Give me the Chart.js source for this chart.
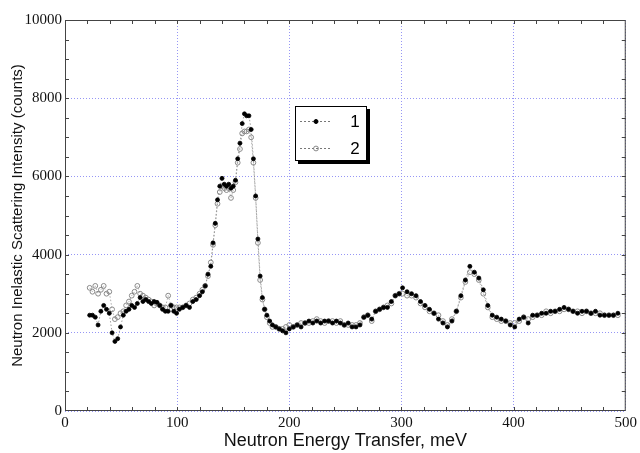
<!DOCTYPE html>
<html>
<head>
<meta charset="utf-8">
<script src="https://cdn.jsdelivr.net/npm/chart.js@4.4.1/dist/chart.umd.min.js"></script>
<style>
html, body { margin: 0; padding: 0; background: #fff; }
</style>
</head>
<body>
<canvas id="chart" width="640" height="453"></canvas>
<script>
// energy transfer (meV) of each channel
const energy = [
    22, 24.5, 27, 29.5, 32, 34.5, 37, 39.5, 42, 44.5, 47, 49.5, 52, 54.5, 57, 59.5,
    62, 64.5, 67, 69.5, 72, 74.5, 77, 79.5, 82, 84.5, 87, 89.5, 92, 94.5, 97, 99.5,
    102, 105, 108, 111, 114, 117, 120, 122.5, 125, 127.5, 130, 132, 134, 136, 138, 140,
    142, 144, 146, 148, 150, 152, 154, 156, 158, 160, 162, 164, 166, 168, 170, 172,
    174, 176, 178, 180, 182.5, 185, 188, 191, 194, 197,
    200, 203.5, 207, 210.5, 214, 217.5, 221, 224.5, 228, 231.5, 235, 238.5, 242, 245.5,
    249, 252.5, 256, 259.5, 263, 266.5, 270, 273.5, 277, 280.5, 284, 287.5, 291, 294.5, 298,
    301, 305, 309, 313, 317, 321, 325, 329, 333, 337, 341, 345, 349, 353, 357, 361,
    365, 369, 373, 377, 381, 385, 389, 393, 397, 401, 405, 409, 413, 417, 421, 425,
    429, 433, 437, 441, 445, 449, 453, 457, 461, 465, 469, 473, 477, 481, 485, 489, 493
];

// sample 1 (filled circles)
const sample1 = [
    2450, 2450, 2400, 2200, 2550, 2700, 2600, 2500, 2000, 1780, 1850, 2150, 2450, 2550, 2600, 2700,
    2650, 2750, 2900, 2800, 2850, 2800, 2750, 2800, 2780, 2700, 2600, 2550, 2550, 2700, 2550, 2500,
    2600, 2650, 2700, 2650, 2800, 2850, 2950, 3050, 3200, 3500, 3700, 4300, 4800, 5400, 5750, 5950,
    5800, 5750, 5800, 5700, 5750, 5900, 6450, 6850, 7350, 7600, 7550, 7550, 7200, 6450, 5500, 4400,
    3450, 2900, 2600, 2450, 2300, 2200, 2150, 2100, 2050, 2000,
    2100, 2150, 2200, 2150, 2250, 2300, 2250, 2300, 2250, 2300, 2300, 2250, 2300, 2250,
    2200, 2250, 2150, 2150, 2200, 2400, 2450, 2350, 2550, 2600, 2650, 2650, 2800, 2950, 3000,
    3150, 3050, 3000, 2950, 2800, 2700, 2600, 2500, 2350, 2250, 2150, 2300, 2550, 2950, 3350, 3700,
    3550, 3400, 3100, 2700, 2450, 2400, 2350, 2300, 2200, 2150, 2350, 2400, 2250, 2450, 2450, 2500,
    2500, 2550, 2550, 2600, 2650, 2600, 2550, 2500, 2550, 2550, 2500, 2550, 2450, 2450, 2450, 2450, 2500
];

// sample 2 (open circles)
const sample2 = [
    3150, 3050, 3200, 3000, 3100, 3200, 3000, 3050, 2600, 2350, 2400, 2500, 2550, 2700, 2800, 2950,
    3050, 3200, 3000, 2950, 2900, 2850, 2800, 2700, 2750, 2700, 2650, 2650, 2950, 2700, 2650, 2650,
    2650, 2650, 2700, 2750, 2850, 2900, 3000, 3100, 3200, 3450, 3800, 4250, 4750, 5300, 5600, 5750,
    5700, 5650, 5700, 5450, 5650, 5850, 6350, 6700, 7100, 7150, 7150, 7200, 7000, 6350, 5450, 4300,
    3350, 2850, 2600, 2400, 2250, 2150, 2150, 2100, 2100, 2150,
    2200, 2150, 2200, 2250, 2250, 2250, 2300, 2350, 2300, 2250, 2300, 2300, 2250, 2300,
    2200, 2200, 2200, 2200, 2250, 2400, 2450, 2300, 2550, 2600, 2650, 2700, 2750, 2950, 3000,
    3000, 2950, 2950, 2900, 2750, 2650, 2550, 2500, 2450, 2300, 2200, 2350, 2550, 2900, 3300, 3550,
    3500, 3350, 3000, 2650, 2400, 2350, 2300, 2300, 2250, 2250, 2300, 2400, 2350, 2400, 2450, 2450,
    2550, 2500, 2550, 2550, 2600, 2600, 2550, 2550, 2500, 2550, 2500, 2500, 2500, 2450, 2450, 2450, 2450
];

const seriesNames = ['1', '2'];
const xTicks = [0, 100, 200, 300, 400, 500];
const yTicks = [0, 2000, 4000, 6000, 8000, 10000];

const toPoints = vals => vals.map((v, i) => ({ x: energy[i], y: v }));

// frame with inward minor/major ticks on all four sides
const framePlugin = {
    id: 'frame',
    afterDatasetsDraw(chart) {
        const { ctx, chartArea: a, scales: { x, y } } = chart;
        ctx.save();
        ctx.strokeStyle = '#444';
        ctx.lineWidth = 1;
        ctx.strokeRect(a.left + 0.5, a.top + 0.5, a.right - a.left - 1, a.bottom - a.top - 1);
        ctx.beginPath();
        for (let v = 20; v < 500; v += 20) {
            const px = Math.round(x.getPixelForValue(v)) + 0.5;
            ctx.moveTo(px, a.bottom); ctx.lineTo(px, a.bottom - 4);
            ctx.moveTo(px, a.top); ctx.lineTo(px, a.top + 4);
        }
        for (let v = 500; v < 10000; v += 500) {
            const py = Math.round(y.getPixelForValue(v)) + 0.5;
            ctx.moveTo(a.left, py); ctx.lineTo(a.left + 4, py);
            ctx.moveTo(a.right, py); ctx.lineTo(a.right - 4, py);
        }
        ctx.stroke();
        ctx.restore();
    }
};

// boxed legend with a drop shadow, sitting inside the plot
const boxLegend = {
    id: 'boxLegend',
    afterDraw(chart) {
        const ctx = chart.ctx;
        const left = 295, top = 106, w = 72, h = 55;
        ctx.save();
        ctx.fillStyle = '#000';
        ctx.fillRect(left + 3, top + 3, w, h);
        ctx.fillStyle = '#fff';
        ctx.fillRect(left, top, w, h);
        ctx.strokeStyle = '#000';
        ctx.lineWidth = 1;
        ctx.strokeRect(left + 0.5, top + 0.5, w - 1, h - 1);
        chart.data.datasets.forEach((ds, i) => {
            const yy = top + 15 + i * 27;
            ctx.strokeStyle = '#777';
            ctx.setLineDash([2, 2]);
            ctx.beginPath();
            ctx.moveTo(left + 5, yy + 0.5);
            ctx.lineTo(left + 37, yy + 0.5);
            ctx.stroke();
            ctx.setLineDash([]);
            ctx.beginPath();
            ctx.arc(left + 21, yy + 0.5, ds.pointRadius, 0, Math.PI * 2);
            ctx.fillStyle = ds.pointBackgroundColor;
            ctx.fill();
            ctx.strokeStyle = ds.pointBorderColor;
            ctx.stroke();
            ctx.fillStyle = '#000';
            ctx.font = '17px "Liberation Sans", Arial, sans-serif';
            ctx.textAlign = 'center';
            ctx.textBaseline = 'middle';
            ctx.fillText(ds.label, left + 60, yy + 1);
        });
        ctx.restore();
    }
};

const gridColor = 'rgb(150, 150, 245)';
const tickFont = { family: '"Liberation Serif", "Times New Roman", serif', size: 15 };
const titleFont = { family: '"Liberation Sans", Arial, sans-serif', size: 15 };

new Chart(document.getElementById('chart'), {
    type: 'line',
    data: {
        datasets: [
            {
                label: seriesNames[0],
                data: toPoints(sample1),
                borderColor: '#888',
                borderWidth: 0.8,
                borderDash: [1.5, 2],
                pointRadius: 2,
                pointBackgroundColor: '#000',
                pointBorderColor: '#000',
                pointBorderWidth: 0.8,
                fill: false,
                tension: 0
            },
            {
                label: seriesNames[1],
                data: toPoints(sample2),
                borderColor: '#999',
                borderWidth: 0.8,
                borderDash: [1.5, 2],
                pointRadius: 2.4,
                pointBackgroundColor: 'rgba(255,255,255,0)',
                pointBorderColor: '#8a8a8a',
                pointBorderWidth: 1,
                fill: false,
                tension: 0
            }
        ]
    },
    options: {
        responsive: false,
        animation: false,
        devicePixelRatio: 1,
        layout: { padding: { top: 20, right: 13, left: 0, bottom: 0 } },
        plugins: {
            legend: { display: false },
            tooltip: { enabled: false }
        },
        scales: {
            x: {
                type: 'linear',
                min: 0,
                max: 500,
                afterBuildTicks: s => { s.ticks = xTicks.map(v => ({ value: v })); },
                afterFit: s => { s.height = 42; },
                grid: { color: gridColor, lineWidth: 1, drawTicks: false },
                border: { display: false, dash: [1, 2] },
                ticks: { font: tickFont, color: '#111', padding: 3, maxRotation: 0, callback: v => String(v) },
                title: {
                    display: true,
                    text: 'Neutron Energy Transfer, meV',
                    font: { family: titleFont.family, size: 18 },
                    color: '#111',
                    padding: { top: 0, bottom: 1 }
                }
            },
            y: {
                min: 0,
                max: 10000,
                afterBuildTicks: s => { s.ticks = yTicks.map(v => ({ value: v })); },
                afterFit: s => { s.width = 65; },
                grid: { color: gridColor, lineWidth: 1, drawTicks: false },
                border: { display: false, dash: [1, 2] },
                ticks: { font: tickFont, color: '#111', padding: 3, callback: v => String(v) },
                title: {
                    display: true,
                    text: 'Neutron Inelastic Scattering Intensity (counts)',
                    font: titleFont,
                    color: '#111',
                    padding: { top: 9, bottom: 0 }
                }
            }
        }
    },
    plugins: [framePlugin, boxLegend]
});
</script>
</body>
</html>
